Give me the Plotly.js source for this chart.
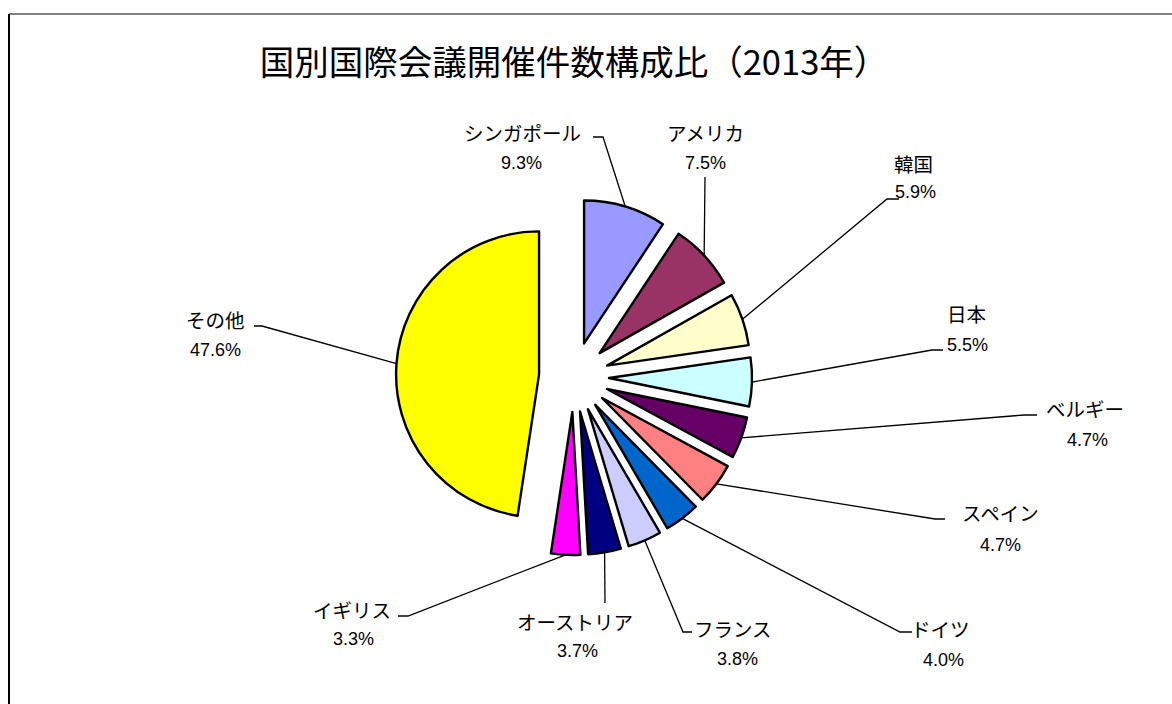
<!DOCTYPE html>
<html>
<head>
<meta charset="utf-8">
<script src="https://cdn.plot.ly/plotly-3.0.1.min.js"></script>
<style>html,body{margin:0;padding:0;background:#fff;}#chart{width:1172px;height:704px;}</style>
</head>
<body>
<div id="chart"></div>
<script>
// ---- data ----
const countries = ["シンガポール","アメリカ","韓国","日本","ベルギー","スペイン","ドイツ","フランス","オーストリア","イギリス","その他"];
const shares = [9.3, 7.5, 5.9, 5.5, 4.7, 4.7, 4.0, 3.8, 3.7, 3.3, 47.6];
const pctLabels = ["9.3%","7.5%","5.9%","5.5%","4.7%","4.7%","4.0%","3.8%","3.7%","3.3%","47.6%"];
const sliceColors = ["#9999FF","#993366","#FFFFCC","#CCFFFF","#660066","#FF8080","#0066CC","#CCCCFF","#000080","#FF00FF","#FFFF00"];

// ---- layout (pixel positions of labels & leader elbows) ----
const W = 1172, H = 704;
const PULL = 0.245;
const box = {cx: 574, cy: 377, half: 178};
const namePos = [[522,132],[705,132],[913,163],[966,313],[1085,408],[1000,512],[940,628],[733,628],[575,621],[352,609],[215,319]];
const pctPos  = [[521,163],[705,163],[915,192],[967,345],[1087,440],[1000,545],[943,660],[737,659],[577,651],[353,639],[215,350]];
// elbow point, then horizontal end point (null = none)
const elbows = [[[603,137],[593,137]], [[705,177],null], [[887,199],[899,199]], [[932,350],[943,350]],
                [[1024,415],[1037,415]], [[935,519],[945,519]], [[900,632],[912,632]], [[683,632],[692,632]],
                [[605,603],null], [[408,616],[398,616]], [[262,326],[254,326]]];

const px = x => x / W, py = y => 1 - y / H;
const domain = {x: [px(box.cx - box.half), px(box.cx + box.half)], y: [py(box.cy + box.half), py(box.cy - box.half)]};

// geometry derived from the pie's own scale
const r = Math.min(W*(domain.x[1]-domain.x[0]), H*(domain.y[1]-domain.y[0]))/2/(1+PULL);
const cx = W*(domain.x[0]+domain.x[1])/2, cy = H*(1-(domain.y[0]+domain.y[1])/2);
const total = shares.reduce((a,b)=>a+b,0);

const shapes = [];
let cum = 0;
shares.forEach((v,i) => {
  const mid = (cum + v/2)/total*2*Math.PI; cum += v;
  const dx = Math.sin(mid), dy = -Math.cos(mid);
  const ex = cx + dx*r*(1+PULL), ey = cy + dy*r*(1+PULL);
  const [e1, e2] = elbows[i];
  let path = `M${px(ex)},${py(ey)} L${px(e1[0])},${py(e1[1])}`;
  if (e2) path += ` L${px(e2[0])},${py(e2[1])}`;
  shapes.push({type:'path', xref:'paper', yref:'paper', path: path, line:{color:'#000', width:1.3}});
});
// chart area border
shapes.push({type:'line', xref:'paper', yref:'paper', x0:px(9), x1:px(1172), y0:py(14), y1:py(14), line:{color:'#808080', width:2}});
shapes.push({type:'line', xref:'paper', yref:'paper', x0:px(9), x1:px(9), y0:py(14), y1:py(704), line:{color:'#000', width:2}});

const annotations = [];
countries.forEach((c,i) => {
  annotations.push({xref:'paper', yref:'paper', x:px(namePos[i][0]), y:py(namePos[i][1]), text:c, showarrow:false,
    xanchor:'center', yanchor:'middle', font:{family:'"Noto Sans CJK JP", sans-serif', size:19.5, color:'#000'}});
  annotations.push({xref:'paper', yref:'paper', x:px(pctPos[i][0]), y:py(pctPos[i][1]), text:pctLabels[i], showarrow:false,
    xanchor:'center', yanchor:'middle', font:{family:'"Liberation Sans Narrow", "Liberation Sans", sans-serif', size:18, color:'#000'}});
});

const trace = {
  type:'pie', labels:countries, values:shares, sort:false, direction:'clockwise', rotation:0,
  pull: shares.map(()=>PULL), domain: domain,
  marker:{colors:sliceColors, line:{color:'#000', width:2.4}},
  textinfo:'none', hoverinfo:'label+percent', showlegend:false
};

const layout = {
  width:W, height:H, margin:{l:0,r:0,t:0,b:0}, paper_bgcolor:'#fff', plot_bgcolor:'#fff',
  title:{text:'国別国際会議開催件数構成比（2013年）', x:px(574), xanchor:'center', y:py(63), yanchor:'middle', yref:'container',
         font:{family:'"Noto Sans CJK JP", sans-serif', size:34.5, color:'#000'}},
  shapes: shapes, annotations: annotations, showlegend:false
};
Plotly.newPlot('chart', [trace], layout, {displayModeBar:false, staticPlot:true});
</script>
</body>
</html>
